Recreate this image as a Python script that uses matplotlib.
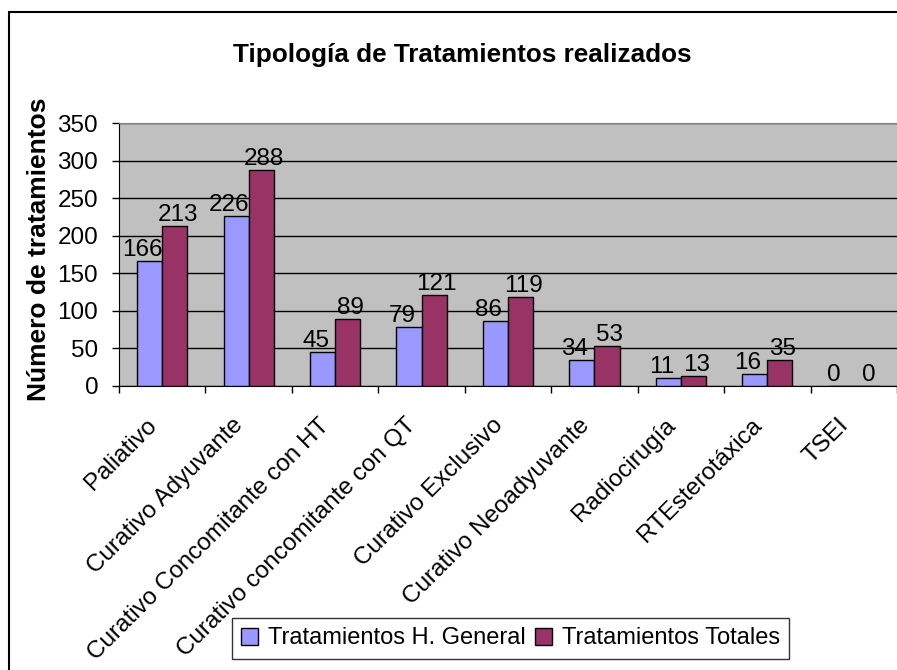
import numpy as np
import matplotlib
matplotlib.use("Agg")
import matplotlib.pyplot as plt
from matplotlib.patches import Rectangle

plt.rcParams['font.family'] = ['Liberation Sans', 'DejaVu Sans']

# datos
categorias = ["Paliativo", "Curativo Adyuvante", "Curativo Concomitante con HT",
              "Curativo concomitante con QT", "Curativo Exclusivo",
              "Curativo Neoadyuvante", "Radiocirugía", "RTEsterotáxica", "TSEI"]
hospital_general = [166, 226, 45, 79, 86, 34, 11, 16, 0]
totales = [213, 288, 89, 121, 119, 53, 13, 35, 0]
yticks = [0, 50, 100, 150, 200, 250, 300, 350]

fig = plt.figure(figsize=(8.97, 6.70), dpi=100)
ax = fig.add_axes([119/897, 1 - 386/670, 1 - 119/897, (386 - 123)/670])

x = np.arange(len(categorias))
w = 0.29
b1 = ax.bar(x - w/2, hospital_general, w, color="#9999FF", edgecolor="black",
            linewidth=1, label="Tratamientos H. General", zorder=3)
b2 = ax.bar(x + w/2, totales, w, color="#993366", edgecolor="black",
            linewidth=1, label="Tratamientos Totales", zorder=3)

# etiquetas de valores (como en Excel, un poco separadas entre si)
for barras, dx in ((b1, -5), (b2, 2)):
    for r in barras:
        ax.annotate(str(int(r.get_height())),
                    (r.get_x() + r.get_width()/2, r.get_height()),
                    xytext=(dx, 0), textcoords="offset points",
                    ha="center", va="bottom", fontsize=17.5, zorder=4)

ax.set_facecolor("#C0C0C0")
ax.set_xlim(-0.5, len(categorias) - 0.5)
ax.set_ylim(0, 350)
ax.set_yticks(yticks)
ax.yaxis.grid(True, color="black", linewidth=1, zorder=1)
ax.tick_params(axis="y", labelsize=17.5, length=5, width=1, direction="out", pad=10)

# marcas del eje x entre categorias, etiquetas en el centro
ax.set_xticks(np.arange(-0.5, len(categorias), 1.0))
ax.set_xticklabels([])
ax.tick_params(axis="x", which="major", length=5, width=1, direction="out")
ax.set_xticks(x - 0.1, minor=True)
ax.set_xticklabels(categorias, minor=True, rotation=45, ha="right",
                   va="center", rotation_mode="anchor", fontsize=17.5)
ax.tick_params(axis="x", which="minor", length=0, pad=26)

for s in ("left", "bottom"):
    ax.spines[s].set_color("black")
ax.spines["top"].set_color("#808080")
ax.spines["right"].set_visible(False)

fig.text(39/897, 1 - 249/670, "Número de tratamientos", rotation=90,
         ha="center", va="center", fontsize=19, fontweight="bold")

fig.text(462/897, 1 - 55/670, "Tipología de Tratamientos realizados",
         ha="center", va="center", fontsize=18.8, fontweight="bold")

leg = fig.legend(loc="center", bbox_to_anchor=(510.5/897, 1 - 638.5/670),
                 ncol=2, fontsize=17, frameon=True, fancybox=False,
                 edgecolor="black", handlelength=0.7, handleheight=0.7,
                 handletextpad=0.42, columnspacing=0.42, borderpad=0.4,
                 borderaxespad=0)
leg.get_frame().set_linewidth(1)

# marco exterior del grafico
fig.patches.append(Rectangle((9/897, -0.1), 1.0, 1 - 12/670 + 0.1,
                             transform=fig.transFigure, fill=False,
                             edgecolor="black", linewidth=1.5))

fig.savefig("out.png", dpi=100)
